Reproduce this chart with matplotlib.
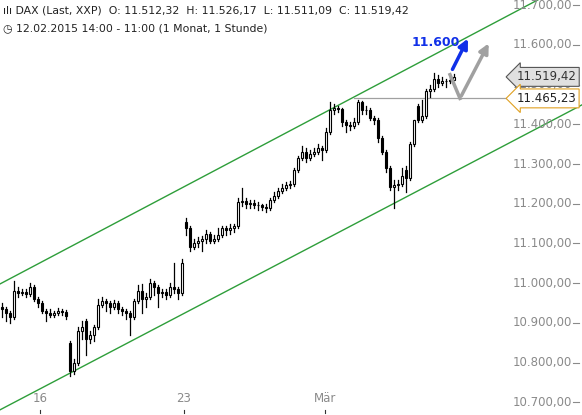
import matplotlib
matplotlib.use("Agg")
import matplotlib.pyplot as plt
from matplotlib.patches import Rectangle, FancyArrowPatch

# hourly candles, 12.02.2015 14:00 - 11.03.2015 11:00
opens = [10940, 10935, 10925, 10915, 10980, 10975, 10978, 10972, 10990, 10960,
         10950, 10930, 10925, 10920, 10925, 10930, 10928, 10850, 10780, 10800,
         10880, 10905, 10860, 10870, 10890, 10945, 10955, 10950, 10940, 10950,
         10935, 10930, 10925, 10915, 10955, 10980, 10960, 10965, 11000, 10990,
         10975, 10978, 10970, 10990, 10985, 10975, 11155, 11140, 11090, 11100,
         11105, 11110, 11125, 11105, 11110, 11120, 11138, 11135, 11140, 11145,
         11205, 11208, 11200, 11202, 11198, 11196, 11192, 11190, 11210, 11220,
         11232, 11240, 11248, 11250, 11285, 11315, 11330, 11315, 11325, 11330,
         11340, 11335, 11380, 11435, 11440, 11438, 11405, 11398, 11395, 11405,
         11455, 11435, 11436, 11415, 11410, 11365, 11330, 11290, 11242, 11248,
         11250, 11285, 11265, 11350, 11445, 11412, 11420, 11485, 11490, 11515,
         11505, 11510, 11508, 11512.32]
closes = [10935, 10925, 10915, 10980, 10975, 10978, 10972, 10990, 10960, 10950,
          10930, 10925, 10920, 10925, 10930, 10928, 10918, 10780, 10800, 10880,
          10890, 10860, 10870, 10890, 10945, 10955, 10950, 10940, 10950, 10935,
          10930, 10925, 10915, 10955, 10980, 10960, 10965, 11000, 10990, 10975,
          10978, 10970, 10990, 10985, 10975, 11050, 11140, 11090, 11100, 11105,
          11110, 11125, 11105, 11110, 11120, 11138, 11135, 11140, 11145, 11205,
          11208, 11200, 11202, 11198, 11196, 11192, 11190, 11210, 11220, 11232,
          11240, 11248, 11250, 11285, 11315, 11330, 11315, 11325, 11330, 11340,
          11335, 11380, 11435, 11440, 11438, 11405, 11398, 11395, 11405, 11455,
          11435, 11436, 11415, 11410, 11365, 11330, 11290, 11242, 11248, 11250,
          11270, 11265, 11350, 11410, 11412, 11420, 11485, 11490, 11515, 11505,
          11510, 11508, 11512, 11519.42]
highs = [10950, 10940, 10930, 11005, 10990, 10985, 10985, 11000, 10995, 10965,
         10955, 10935, 10935, 10930, 10938, 10936, 10932, 10855, 10810, 10890,
         10905, 10910, 10880, 10895, 10960, 10965, 10960, 10955, 10958, 10955,
         10940, 10935, 10930, 10960, 10995, 10998, 10975, 11010, 11005, 10995,
         10985, 10985, 11000, 11050, 10990, 11060, 11165, 11145, 11110, 11115,
         11118, 11135, 11130, 11120, 11140, 11145, 11145, 11150, 11150, 11215,
         11240, 11215, 11210, 11210, 11205, 11200, 11200, 11215, 11230, 11240,
         11250, 11255, 11258, 11290, 11320, 11345, 11340, 11335, 11340, 11350,
         11345, 11390, 11455, 11450, 11445, 11442, 11410, 11405, 11415, 11460,
         11458, 11445, 11440, 11420, 11415, 11370, 11335, 11295, 11260, 11260,
         11290, 11295, 11355, 11412, 11450, 11460, 11490, 11500, 11530, 11525,
         11520, 11515, 11520, 11526.17]
lows = [10915, 10905, 10900, 10910, 10965, 10970, 10965, 10968, 10955, 10940,
        10925, 10905, 10915, 10915, 10920, 10920, 10910, 10765, 10770, 10795,
        10860, 10820, 10850, 10855, 10885, 10940, 10930, 10925, 10935, 10925,
        10920, 10910, 10870, 10910, 10950, 10925, 10940, 10960, 10970, 10940,
        10965, 10960, 10965, 10975, 10960, 10970, 11120, 11080, 11085, 11090,
        11080, 11100, 11100, 11100, 11105, 11115, 11120, 11125, 11130, 11140,
        11195, 11190, 11190, 11190, 11185, 11185, 11180, 11185, 11205, 11215,
        11228, 11235, 11240, 11245, 11280, 11310, 11305, 11310, 11320, 11325,
        11310, 11330, 11375, 11425, 11430, 11395, 11380, 11385, 11390, 11400,
        11425, 11425, 11410, 11400, 11355, 11325, 11280, 11235, 11190, 11235,
        11245, 11230, 11260, 11345, 11405, 11405, 11415, 11470, 11485, 11495,
        11500, 11495, 11505, 11511.09]

price_ticks = [11700, 11600, 11500, 11400, 11300, 11200, 11100, 11000, 10900, 10800, 10700]
date_labels = ["16", "23", "Mär"]
date_pos = [9.5, 45.5, 80.8]

upper_channel = ([-0.5, 145], [10998, 11772])
lower_channel = ([-0.5, 145], [10681, 11449])
resistance = 11465.23
last_price = 11519.42
target = 11600

GREEN = "#2e9e3a"
GREY = "#8a8a8a"


def de_fmt(v):
    s = f"{v:,.2f}"
    return s.replace(",", "X").replace(".", ",").replace("X", ".")


fig = plt.figure(figsize=(5.82, 4.15), dpi=100)
ax = fig.add_axes([0, 0, 1, 1])
ax.set_xlim(-0.5, 145)
ax.set_ylim(10668, 11713)
ax.axis("off")

# channel
ax.plot(*upper_channel, color=GREEN, lw=1, zorder=1)
ax.plot(*lower_channel, color=GREEN, lw=1, zorder=1)
ax.plot([88, 128], [resistance, resistance], color="#a0a0a0", lw=0.9, zorder=1)

# candles
w = 0.7
for i, (o, h, l, c) in enumerate(zip(opens, highs, lows, closes)):
    ax.plot([i, i], [l, h], color="black", lw=0.9, zorder=2)
    bottom = min(o, c)
    height = max(abs(c - o), 1.5)
    face = "white" if c >= o else "black"
    ax.add_patch(Rectangle((i - w / 2, bottom), w, height, facecolor=face,
                           edgecolor="black", lw=0.8, zorder=3))

# projection arrows
ax.add_patch(FancyArrowPatch((112.3, 11532), (116.8, 11622), arrowstyle="-|>",
                             mutation_scale=14, color="#1030e8", lw=2.5, zorder=5))
ax.plot([112, 114.5], [11525, resistance], color="#a0a0a0", lw=2.5, zorder=4)
ax.add_patch(FancyArrowPatch((114.5, resistance), (122, 11610), arrowstyle="-|>",
                             mutation_scale=14, color="#a0a0a0", lw=2.5, zorder=4))
ax.text(102.5, 11590, "11.600", color="#1030e8", fontsize=9, fontweight="bold",
        ha="left", va="bottom")

# price axis labels
for p in price_ticks:
    ax.text(142.6, p, de_fmt(p), color=GREY, fontsize=8.5, ha="right", va="center")
    ax.plot([142.8, 144.3], [p, p], color=GREY, lw=0.8)

ax.text(128.6, last_price, de_fmt(last_price), fontsize=8.5, color="#333333",
        ha="left", va="center", zorder=6,
        bbox=dict(boxstyle="larrow,pad=0.25", fc="#e0e0e0", ec="#555555", lw=0.8))
ax.text(128.6, resistance, de_fmt(resistance), fontsize=8.5, color="#222222",
        ha="left", va="center", zorder=6,
        bbox=dict(boxstyle="larrow,pad=0.25", fc="white", ec="#e0a020", lw=0.8))

# date axis
for lab, x in zip(date_labels, date_pos):
    ax.text(x, 10710, lab, color=GREY, fontsize=8.5, ha="center", va="center")
    ax.plot([x, x], [10673, 10681], color="#333333", lw=0.8)

# header
fig.text(0.005, 0.975, "ılı DAX (Last, XXP)  O: 11.512,32  H: 11.526,17  L: 11.511,09  C: 11.519,42",
         fontsize=7.8, color="#222222", va="center")
fig.text(0.005, 0.933, "◷ 12.02.2015 14:00 - 11:00 (1 Monat, 1 Stunde)",
         fontsize=7.8, color="#222222", va="center")

fig.savefig("out.png", dpi=100)
